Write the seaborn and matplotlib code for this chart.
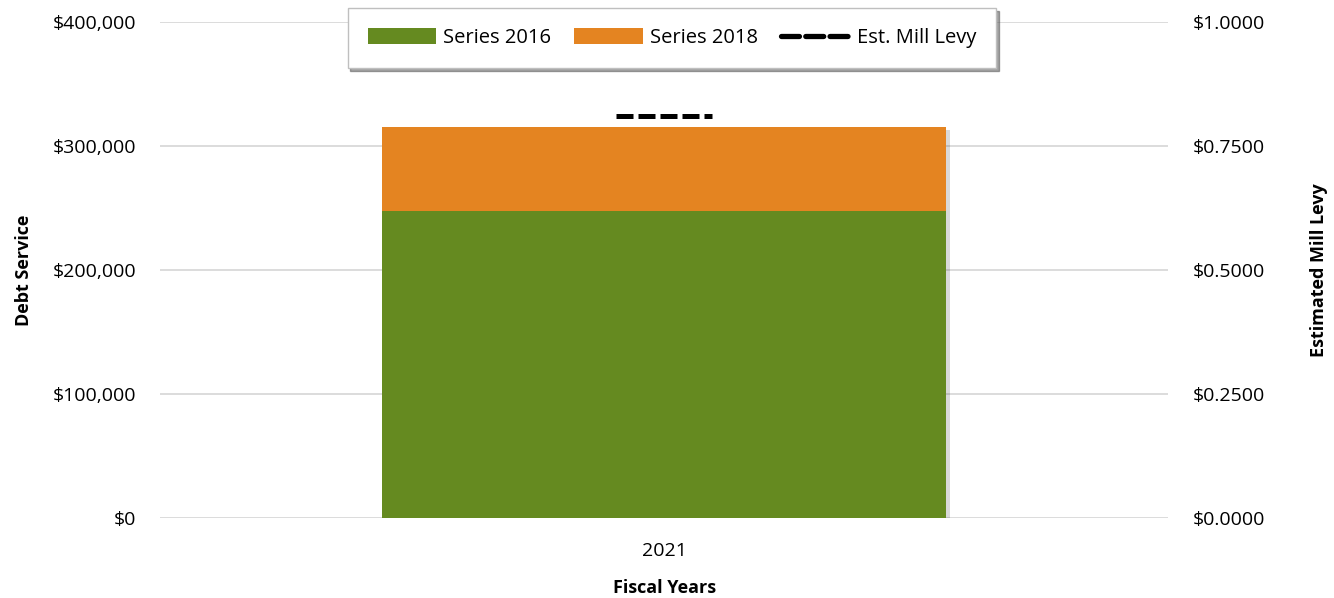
import matplotlib
matplotlib.use("Agg")
import matplotlib.pyplot as plt
import matplotlib.patheffects as pe
from matplotlib.patches import Patch
from matplotlib.lines import Line2D
from matplotlib.ticker import FuncFormatter, MultipleLocator
import seaborn as sns
import pandas as pd

# Debt service by fiscal year
years = ["2021"]
series_2016 = [247600]
series_2018 = [67700]
mill_levy = [0.8100]

GREEN = "#658A20"
ORANGE = "#E48421"
GRID = "#D9D9D9"
FS = 14
LFS = 13

sns.set_theme(style="white")
plt.rcParams["font.family"] = ["Open Sans", "DejaVu Sans"]
plt.rcParams["text.color"] = "black"
plt.rcParams["axes.labelcolor"] = "black"

df = pd.DataFrame({
    "year": years,
    "s2016": series_2016,
    "total": [a + b for a, b in zip(series_2016, series_2018)],
    "levy": mill_levy,
})

fig = plt.figure(figsize=(13.34, 5.98), dpi=100)
ax = fig.add_axes([0.12, 0.1338, 0.7556, 0.8294])
ax2 = ax.twinx()

shadow = [pe.SimplePatchShadow(offset=(3, -2), shadow_rgbFace="black", alpha=0.15), pe.Normal()]

# Stacked bars: total in orange underneath, 2016 series in green on top
sns.barplot(data=df, x="year", y="total", color=ORANGE, saturation=1, width=0.56, ax=ax, zorder=3)
sns.barplot(data=df, x="year", y="s2016", color=GREEN, saturation=1, width=0.56, ax=ax, zorder=4)
for p in ax.patches[:1]:
    p.set_path_effects(shadow)
for p in ax.patches:
    p.set_edgecolor("none")

ax.set_xlim(-0.5, 0.5)
ax.set_ylim(0, 400000)
ax.yaxis.set_major_locator(MultipleLocator(100000))
ax.yaxis.set_major_formatter(FuncFormatter(lambda v, _: f"${v:,.0f}"))
ax.grid(axis="y", color=GRID, linewidth=1.3, zorder=0)
ax.set_axisbelow(True)
for s in ax.spines.values():
    s.set_visible(False)
for s in ax2.spines.values():
    s.set_visible(False)

ax.tick_params(axis="both", length=0, labelsize=FS, colors="#000000")
ax.tick_params(axis="y", pad=17)
ax.tick_params(axis="x", pad=17)
ax.set_xlabel("Fiscal Years", fontsize=LFS, fontweight="bold", labelpad=14, color="black")
ax.set_ylabel("Debt Service", fontsize=LFS, fontweight="bold", color="black")
ax.yaxis.set_label_coords(-0.126, 0.5)

# Estimated mill levy on the secondary axis
half = 0.048
for i, v in enumerate(df["levy"]):
    ax2.hlines(v, i - half, i + half, colors="black", linestyles=(0, (3.4, 1.0)), linewidth=3.6, zorder=5)
ax2.set_ylim(0, 1.0)
ax2.yaxis.set_major_locator(MultipleLocator(0.25))
ax2.yaxis.set_major_formatter(FuncFormatter(lambda v, _: f"${v:.4f}"))
ax2.tick_params(axis="y", length=0, labelsize=FS, pad=18, colors="#000000")
ax2.set_ylabel("Estimated Mill Levy", fontsize=LFS, fontweight="bold", color="black")
ax2.yaxis.set_label_coords(1.1409, 0.5)
ax2.grid(False)

handles = [
    Patch(facecolor=GREEN, edgecolor="none"),
    Patch(facecolor=ORANGE, edgecolor="none"),
    Line2D([0], [0], color="black", linestyle=(0, (3.4, 1.2)), linewidth=3.8,
           dash_capstyle="round"),
]
leg = fig.legend(handles, ["Series 2016", "Series 2018", "Est. Mill Levy"],
                 loc="upper center", bbox_to_anchor=(0.5037, 0.9866), ncol=3,
                 fontsize=14.5, frameon=True, fancybox=False, shadow=True,
                 handlelength=3.4, handleheight=0.85, columnspacing=1.15,
                 borderpad=1.0, handletextpad=0.35, borderaxespad=0)
leg.get_frame().set_edgecolor("#BFBFBF")
leg.get_frame().set_linewidth(1.0)

fig.savefig("out.png", dpi=100)
